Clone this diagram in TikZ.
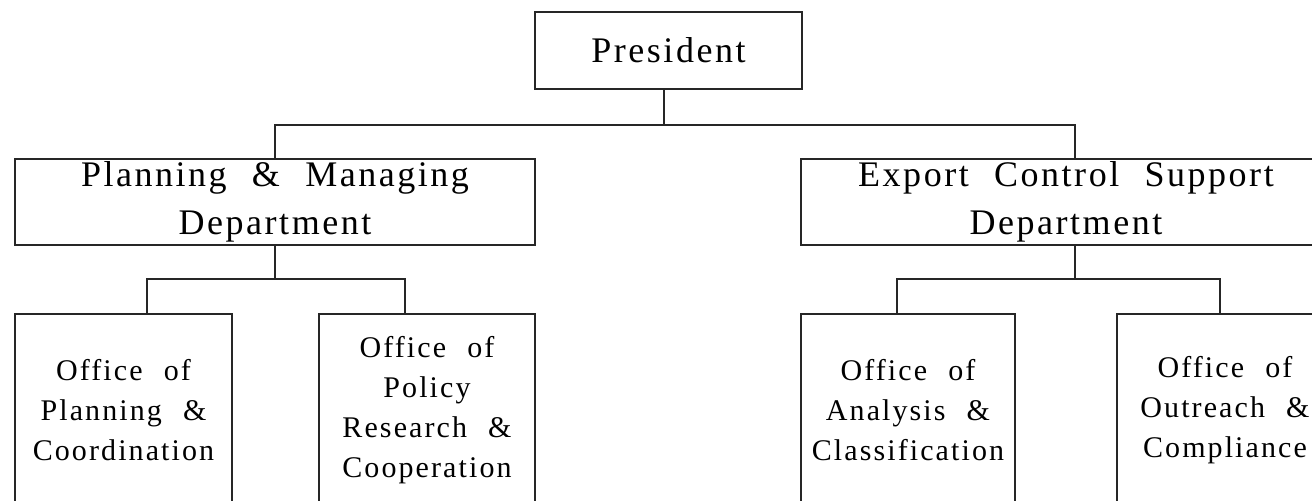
\documentclass[tikz,border=0pt]{standalone}
\usepackage{fontspec}
\setmainfont{Liberation Serif}[LetterSpace=7,WordSpace=2.2]
\tikzset{unit box/.style={draw=black!85, line width=0.9pt, align=center, inner sep=0pt}}
\tikzset{head box/.style={unit box, font=\fontsize{18}{24}\selectfont}}
\tikzset{office box/.style={unit box, minimum height=96pt, font=\fontsize{15}{20}\selectfont}}
\tikzset{link/.style={draw=black!85, line width=0.9pt}}

\begin{document}
\begin{tikzpicture}[x=0.5pt, y=-0.5pt]
   \useasboundingbox (0,0) rectangle (1312,501);
   \clip (0,0) rectangle (1312,501);
   \node[head box, minimum width=133.5pt, minimum height=38.5pt] (pres) at (668.5,50.5) {President};
   \node[head box, minimum width=260pt, minimum height=43pt] (plan) at (275,202) {Planning \& Managing\\Department};
   \node[head box, minimum width=265pt, minimum height=43pt] (exp) at (1066,202) {Export Control Support\\Department};
   \node[office box, minimum width=108.5pt] (coord) at (123.5,410) {Office of\\Planning \&\\Coordination};
   \node[office box, minimum width=108pt] (policy) at (427,410) {Office of\\Policy\\Research \&\\Cooperation};
   \node[office box, minimum width=107pt] (analysis) at (908,410) {Office of\\Analysis \&\\Classification};
   \node[office box, minimum width=108pt] (outreach) at (1225,410) {Office of\\Outreach \&\\Compliance};
   \coordinate (topbus) at (0,125);
   \coordinate (leftbus) at (0,279);
   \coordinate (rightbus) at (0,279);
   \draw[link] ([xshift=-2.25pt]pres.south) -- ([xshift=-2.25pt]pres.south |- topbus);
   \draw[link] (plan.north) |- ([xshift=4.5pt]exp.north |- topbus) -- ([xshift=4.5pt]exp.north);
   \draw[link] (plan.south) -- (plan.south |- leftbus);
   \draw[link] ([xshift=11.75pt]coord.north) |- ([xshift=-11pt]policy.north |- leftbus) -- ([xshift=-11pt]policy.north);
   \draw[link] ([xshift=4.5pt]exp.south) -- ([xshift=4.5pt]exp.south |- rightbus);
   \draw[link] ([xshift=-5.5pt]analysis.north) |- ([xshift=-2.5pt]outreach.north |- rightbus) -- ([xshift=-2.5pt]outreach.north);
\end{tikzpicture}
\end{document}
